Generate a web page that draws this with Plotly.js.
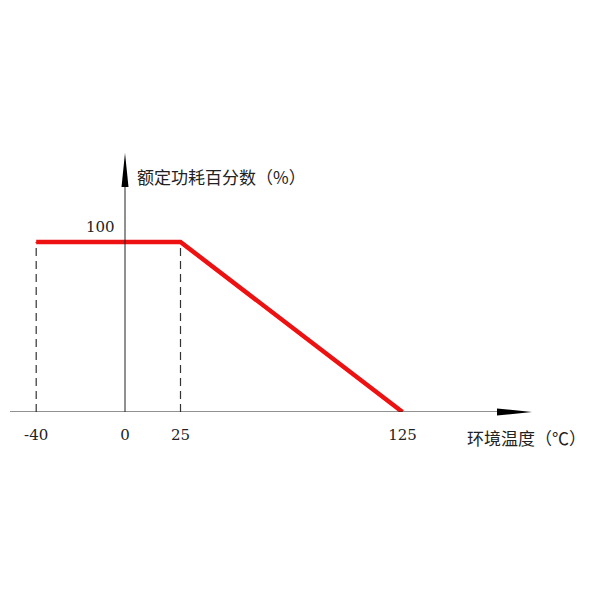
<!DOCTYPE html>
<html>
<head>
<meta charset="utf-8">
<script src="https://cdn.plot.ly/plotly-3.0.1.min.js"></script>
<style>html,body{margin:0;padding:0;background:#fff;}#chart{width:600px;height:600px;}</style>
</head>
<body>
<div id="chart"></div>
<script>
// Data
const temps = [-40, 25, 125];          // ambient temperature breakpoints (°C)
const power = [100, 100, 0];           // rated power percentage (%)
const tickVals = [-40, 0, 25, 125];
const tickLabels = ['-40', '0', '25', '125'];
const yTickLabel = '100';
const xTitle = '环境温度（℃）';
const yTitle = '额定功耗百分数（%）';

// Layout geometry
const W = 600, H = 600, B = 188;          // plot area bottom at 412px
const x0px = 125, xScale = 2.22;         // px per °C
const yScale = 1.7;                      // px per %
const plotH = H - B;
const xRange = [(0 - x0px) / xScale, (W - x0px) / xScale];
const yRange = [0, plotH / yScale];
const px = p => p / W;                   // pixel -> paper x
const py = p => (plotH - p) / plotH;     // pixel -> paper y
const ink = '#222';
const serif = 'DejaVu Serif, Liberation Serif, serif';
const cjk = 'Noto Sans CJK SC, sans-serif';

const traces = [
  {x: [temps[0], temps[0]], y: [0, power[0]], mode: 'lines', line: {color: '#333', width: 1.2, dash: '8px,5px'}, hoverinfo: 'skip'},
  {x: [temps[1], temps[1]], y: [0, power[1]], mode: 'lines', line: {color: '#333', width: 1.2, dash: '8px,5px'}, hoverinfo: 'skip'},
  {x: temps, y: power, mode: 'lines', line: {color: '#ee1111', width: 4.5}, cliponaxis: false}
];

const layout = {
  width: W, height: H,
  margin: {l: 0, r: 0, t: 0, b: B, pad: 0},
  paper_bgcolor: '#fff', plot_bgcolor: '#fff',
  showlegend: false,
  xaxis: {range: xRange, showgrid: false, zeroline: false, showline: false,
          tickvals: tickVals, ticktext: tickLabels, ticks: '', ticklabelstandoff: 12,
          tickfont: {family: serif, size: 15, color: ink}, fixedrange: true},
  yaxis: {range: yRange, visible: false, fixedrange: true},
  shapes: [
    {type: 'line', xref: 'paper', yref: 'y', x0: px(10), x1: px(500), y0: 0, y1: 0, line: {color: ink, width: 1}},
    {type: 'path', xref: 'paper', yref: 'paper',
     path: `M ${px(532)},${py(412)} L ${px(497)},${py(408.5)} L ${px(497)},${py(415.5)} Z`,
     fillcolor: '#000', line: {width: 0}},
    {type: 'line', xref: 'x', yref: 'paper', x0: 0, x1: 0, y0: py(412), y1: py(185), line: {color: ink, width: 1}},
    {type: 'path', xref: 'x', yref: 'paper',
     path: `M 0,${py(153)} L ${-3.5 / xScale},${py(187)} L ${3.5 / xScale},${py(187)} Z`,
     fillcolor: '#000', line: {width: 0}}
  ],
  annotations: [
    {x: 0, y: power[0], xref: 'x', yref: 'y', text: yTickLabel, showarrow: false,
     xanchor: 'right', yanchor: 'bottom', xshift: -8, yshift: 4,
     font: {family: serif, size: 15, color: ink}},
    {x: px(465), y: py(437), xref: 'paper', yref: 'paper', text: xTitle, showarrow: false,
     xanchor: 'left', yanchor: 'middle', font: {family: cjk, size: 17, color: ink}},
    {x: px(135), y: py(176), xref: 'paper', yref: 'paper', text: yTitle, showarrow: false,
     xanchor: 'left', yanchor: 'middle', font: {family: cjk, size: 17, color: ink}}
  ]
};

Plotly.newPlot('chart', traces, layout, {displayModeBar: false, staticPlot: true});
</script>
</body>
</html>
